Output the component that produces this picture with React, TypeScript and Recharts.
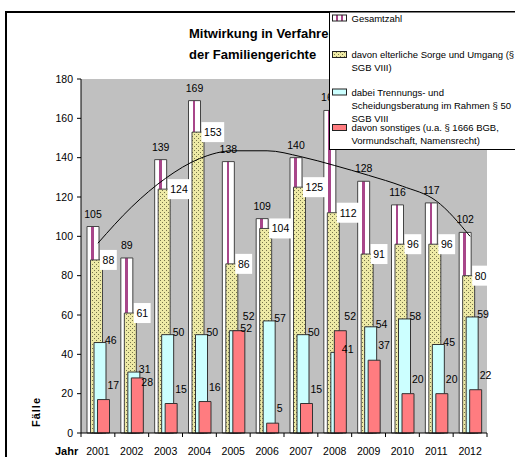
import { ComposedChart, Bar, Line, XAxis, YAxis, CartesianGrid, LabelList } from 'recharts';

const years = ['2001', '2002', '2003', '2004', '2005', '2006', '2007', '2008', '2009', '2010', '2011', '2012'];
const gesamtzahl = [105, 89, 139, 169, 138, 109, 140, 164, 128, 116, 117, 102];
const elterlicheSorge = [88, 61, 124, 153, 86, 104, 125, 112, 91, 96, 96, 80];
const trennungsberatung = [46, 31, 50, 50, 52, 57, 50, 41, 54, 58, 45, 59];
const sonstiges = [17, 28, 15, 16, 52, 5, 15, 52, 37, 20, 20, 22];
// polynomial trend over Gesamtzahl
const trend = [96.5, 115, 129.5, 139.5, 143.5, 143.5, 140.5, 136, 131, 125.5, 118, 100];
const yTicks = [0, 20, 40, 60, 80, 100, 120, 140, 160, 180];

const titleLines = ['Mitwirkung in Verfahren', 'der Familiengerichte'];
const legendLabels = [
  ['Gesamtzahl'],
  ['davon elterliche Sorge und Umgang (§ 50', 'SGB VIII)'],
  ['dabei Trennungs- und', 'Scheidungsberatung im Rahmen § 50', 'SGB VIII'],
  ['davon sonstiges (u.a. § 1666 BGB,', 'Vormundschaft, Namensrecht)'],
];

const data = years.map((year, i) => ({
  year,
  gesamt: gesamtzahl[i],
  sorge: elterlicheSorge[i],
  trennung: trennungsberatung[i],
  sonst: sonstiges[i],
  trend: trend[i],
}));

const W = 515;
const H = 457;
const PLOT_LEFT = 81;
const PLOT_RIGHT = 487;
const BAND = (PLOT_RIGHT - PLOT_LEFT) / years.length;
const FONT = 'Arial, "Liberation Sans", sans-serif';
const LABEL_SIZE = 10.5;

const fills = ['url(#gesamtFill)', 'url(#sorgeDots)', '#ccffff', '#ff7c80'];
const swatchFills = ['url(#gesamtStripes)', 'url(#sorgeDots)', '#ccffff', '#ff7c80'];

const GesamtLabel = (props: any) => {
  const { x, y, width, value } = props;
  return (
    <text x={x + width / 2} y={y - 13} textAnchor="middle" dominantBaseline="central" fontSize={LABEL_SIZE} fontFamily={FONT} fill="#000">
      {value}
    </text>
  );
};

const SorgeLabel = (props: any) => {
  const { x, y, width, value } = props;
  const w = String(value).length * 5.9 + 5;
  const bx = x + width - 2.5;
  return (
    <g>
      <rect x={bx} y={y - 10} width={w} height={20} fill="#fff" />
      <text x={bx + w / 2} y={y} textAnchor="middle" dominantBaseline="central" fontSize={LABEL_SIZE} fontFamily={FONT} fill="#000">
        {value}
      </text>
    </g>
  );
};

const TrennungLabel = (props: any) => {
  const { x, y, width, value } = props;
  return (
    <text x={x + width - 1} y={y - 3} dominantBaseline="central" fontSize={LABEL_SIZE} fontFamily={FONT} fill="#000">
      {value}
    </text>
  );
};

// red labels sit above their bar, but drop below the cyan label when the two would collide
const makeSonstLabel = (yScale: (v: number) => number) => (props: any) => {
  const { x, y, width, value, index } = props;
  const cyanY = yScale(trennungsberatung[index]) - 3;
  let ly = y - 15;
  if (Math.abs(ly - cyanY) < 12) ly = cyanY + 13;
  return (
    <text x={x + width - 2} y={ly} dominantBaseline="central" fontSize={LABEL_SIZE} fontFamily={FONT} fill="#000">
      {value}
    </text>
  );
};

const YearTick = (props: any) => {
  const { x, y, payload, index } = props;
  const left = x - BAND / 2;
  return (
    <g>
      <line x1={left} y1={y} x2={left} y2={y + 4} stroke="#000" />
      {index === years.length - 1 && <line x1={x + BAND / 2} y1={y} x2={x + BAND / 2} y2={y + 4} stroke="#000" />}
      <text x={x} y={y + 18} textAnchor="middle" dominantBaseline="central" fontSize={10.5} fontFamily={FONT} fill="#000">
        {payload.value}
      </text>
    </g>
  );
};

const Patterns = () => (
  <svg width={0} height={0} style={{ position: 'absolute' }}>
    <defs>
      <linearGradient id="gesamtFill" x1="0" y1="0" x2="1" y2="0">
        <stop offset="0" stopColor="#fff" />
        <stop offset="0.36" stopColor="#fff" />
        <stop offset="0.36" stopColor="#a8468a" />
        <stop offset="0.58" stopColor="#a8468a" />
        <stop offset="0.58" stopColor="#fff" />
        <stop offset="1" stopColor="#fff" />
      </linearGradient>
      <pattern id="gesamtStripes" width={5} height={5} patternUnits="userSpaceOnUse">
        <rect width={5} height={5} fill="#fff" />
        <rect x={1} width={2} height={5} fill="#a8468a" />
      </pattern>
      <pattern id="sorgeDots" width={4} height={4} patternUnits="userSpaceOnUse">
        <rect width={4} height={4} fill="#eeeaa6" />
        <rect x={0} y={0} width={1} height={1} fill="#77744a" />
        <rect x={2} y={2} width={1} height={1} fill="#77744a" />
      </pattern>
    </defs>
  </svg>
);

const Overlay = () => {
  const rowY = [18, 54.5, 92, 127.5];
  return (
    <svg width={W} height={H} style={{ position: 'absolute', left: 0, top: 0, pointerEvents: 'none' }}>
      <rect x={6} y={12} width={700} height={700} fill="none" stroke="#000" strokeWidth={2} />
      {titleLines.map((t, i) => (
        <text key={t} x={189} y={33 + i * 21} dominantBaseline="central" fontSize={13} fontWeight="bold" fontFamily={FONT} fill="#000">
          {t}
        </text>
      ))}
      <text x={0} y={0} transform="translate(36,412) rotate(-90)" textAnchor="middle" dominantBaseline="central" fontSize={11} fontWeight="bold" letterSpacing={1} fontFamily={FONT} fill="#000">
        Fälle
      </text>
      <text x={55} y={451} dominantBaseline="central" fontSize={11} fontWeight="bold" fontFamily={FONT} fill="#000">
        Jahr
      </text>
      <rect x={329.5} y={12} width={300} height={137.5} fill="#fff" stroke="#000" strokeWidth={1} />
      {legendLabels.map((lines, i) => (
        <g key={i}>
          <rect x={332.5} y={rowY[i] - 3} width={14} height={6} fill={swatchFills[i]} stroke="#222" strokeWidth={1} />
          {lines.map((l, j) => (
            <text key={j} x={351.5} y={rowY[i] + j * 13} dominantBaseline="central" fontSize={9.5} fontFamily={FONT} fill="#000">
              {l}
            </text>
          ))}
        </g>
      ))}
    </svg>
  );
};

// y pixel of a value on the 0..180 axis (plot runs from y=79 to y=433)
const yPixel = (v: number) => 433 - (v / 180) * (433 - 79);
const SonstLabel = makeSonstLabel(yPixel);

export default function App() {
  return (
    <div style={{ position: 'absolute', left: 0, top: 0, width: W, height: H, background: '#fff', overflow: 'hidden' }}>
      <Patterns />
      <ComposedChart
        width={W}
        height={H}
        data={data}
        margin={{ top: 79, right: W - PLOT_RIGHT, bottom: 0, left: 0 }}
        barGap={-8.5}
      >
        <CartesianGrid fill="#c0c0c0" horizontal={false} vertical={false} />
        <XAxis
          dataKey="year"
          height={24}
          interval={0}
          tickLine={false}
          tickSize={0}
          tickMargin={0}
          axisLine={{ stroke: '#000' }}
          tick={<YearTick />}
        />
        <YAxis
          width={PLOT_LEFT}
          domain={[0, 180]}
          ticks={yTicks}
          interval={0}
          tickSize={4}
          tickMargin={4}
          axisLine={{ stroke: '#000' }}
          tickLine={{ stroke: '#000' }}
          tick={{ fill: '#000', fontSize: 10.5, fontFamily: FONT }}
        />
        <Bar dataKey="gesamt" fill={fills[0]} stroke="#444" strokeWidth={1} barSize={12} isAnimationActive={false}>
          <LabelList dataKey="gesamt" content={GesamtLabel} />
        </Bar>
        <Bar dataKey="sorge" fill={fills[1]} stroke="#444" strokeWidth={1} barSize={12} isAnimationActive={false}>
          <LabelList dataKey="sorge" content={SorgeLabel} />
        </Bar>
        <Bar dataKey="trennung" fill={fills[2]} stroke="#333" strokeWidth={1} barSize={12} isAnimationActive={false}>
          <LabelList dataKey="trennung" content={TrennungLabel} />
        </Bar>
        <Bar dataKey="sonst" fill={fills[3]} stroke="#333" strokeWidth={1} barSize={12} isAnimationActive={false}>
          <LabelList dataKey="sonst" content={SonstLabel} />
        </Bar>
        <Line dataKey="trend" type="monotone" stroke="#000" strokeWidth={1} dot={false} activeDot={false} isAnimationActive={false} />
      </ComposedChart>
      <Overlay />
    </div>
  );
}
